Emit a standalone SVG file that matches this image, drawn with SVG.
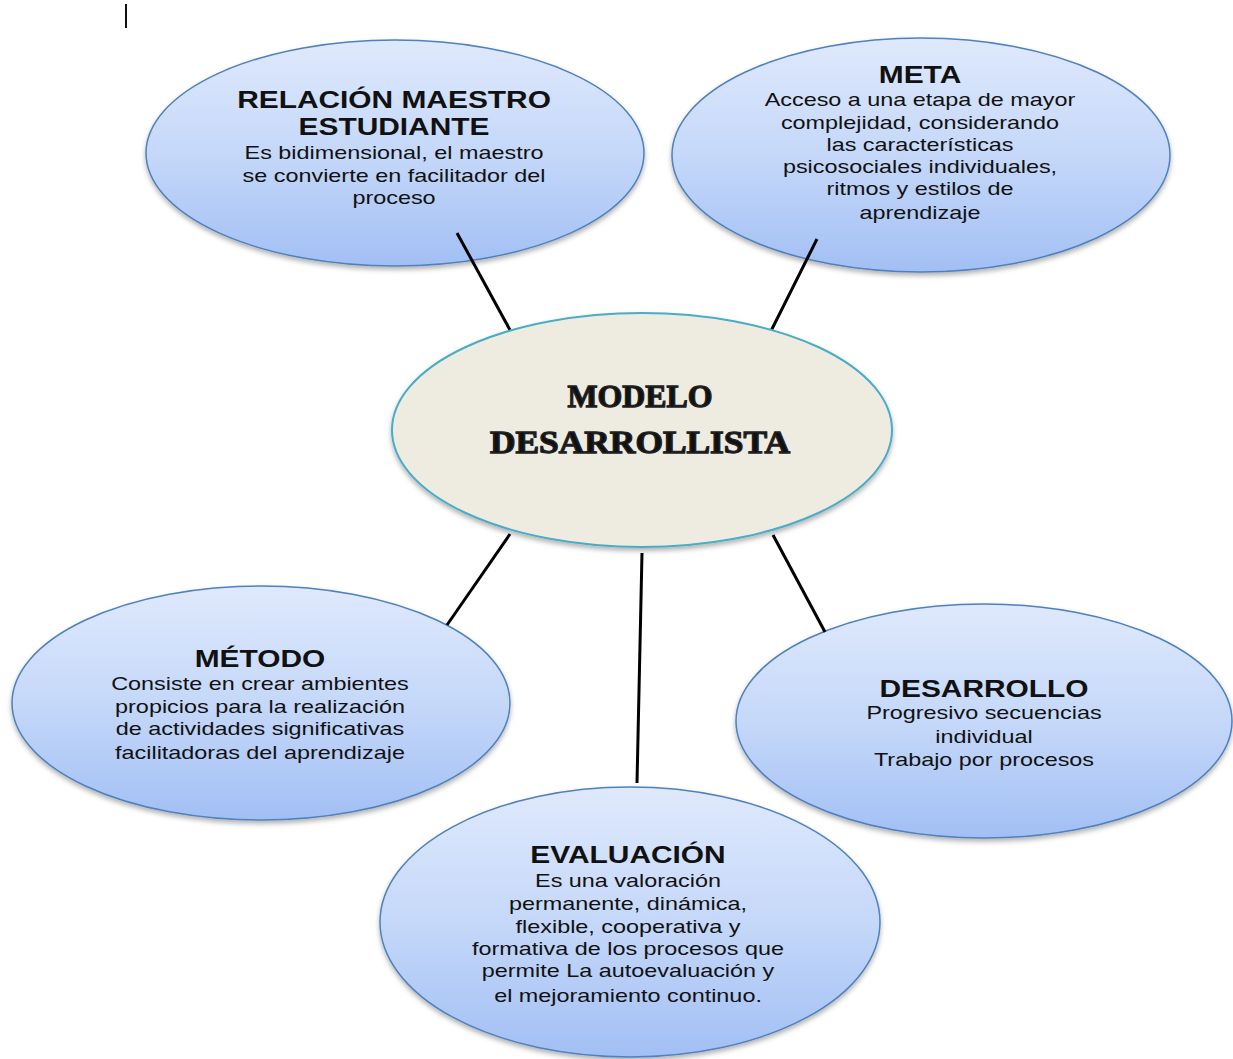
<svg xmlns="http://www.w3.org/2000/svg" width="1233" height="1059" viewBox="0 0 1233 1059">
<defs>
<linearGradient id="blueFill" x1="0" y1="0" x2="0" y2="1">
<stop offset="0" stop-color="#dfe9fc"/>
<stop offset="0.5" stop-color="#c5d8f9"/>
<stop offset="1" stop-color="#a2bff4"/>
</linearGradient>
<filter id="shadow" x="-10%" y="-10%" width="120%" height="125%">
<feDropShadow dx="0" dy="3" stdDeviation="2.5" flood-color="#000" flood-opacity="0.3"/>
</filter>
<style>
.blue{fill:url(#blueFill);stroke:#4f81bd;stroke-width:1.5;filter:url(#shadow)}
.center{fill:#eeece1;stroke:#4bacc6;stroke-width:2;filter:url(#shadow)}
.title{font-family:"Liberation Sans",Arial,sans-serif;font-weight:bold;font-size:23px;fill:#111;text-anchor:middle}
.body{font-family:"Liberation Sans",Arial,sans-serif;font-size:18px;fill:#111;text-anchor:middle}
.ctitle{font-family:"Liberation Serif","Times New Roman",serif;font-weight:bold;font-size:32px;fill:#111;stroke:#222;stroke-width:1.3;text-anchor:middle}
.conn line{stroke:#000;stroke-width:3;stroke-linecap:butt}
</style>
</defs>
<rect width="1233" height="1059" fill="#ffffff"/>
<rect x="125" y="4" width="2" height="24" fill="#111"/>

<g id="node-relacion">
<ellipse class="blue" cx="395" cy="153" rx="249" ry="113"/>
<g transform="translate(394,0) scale(1.3,1)">
<text class="title" x="0" y="108">RELACIÓN MAESTRO</text>
<text class="title" x="0" y="135">ESTUDIANTE</text>
<text class="body" x="0" y="159">Es bidimensional, el maestro</text>
<text class="body" x="0" y="182">se convierte en facilitador del</text>
<text class="body" x="0" y="204">proceso</text>
</g>
</g>

<g id="node-meta">
<ellipse class="blue" cx="921" cy="155" rx="249" ry="117"/>
<g transform="translate(920,0) scale(1.3,1)">
<text class="title" x="0" y="83">META</text>
<text class="body" x="0" y="106">Acceso a una etapa de mayor</text>
<text class="body" x="0" y="129">complejidad, considerando</text>
<text class="body" x="0" y="151">las características</text>
<text class="body" x="0" y="173">psicosociales individuales,</text>
<text class="body" x="0" y="195">ritmos y estilos de</text>
<text class="body" x="0" y="219">aprendizaje</text>
</g>
</g>

<g id="node-metodo">
<ellipse class="blue" cx="261" cy="703" rx="249" ry="117"/>
<g transform="translate(260,0) scale(1.3,1)">
<text class="title" x="0" y="667">MÉTODO</text>
<text class="body" x="0" y="690">Consiste en crear ambientes</text>
<text class="body" x="0" y="713">propicios para la realización</text>
<text class="body" x="0" y="735">de actividades significativas</text>
<text class="body" x="0" y="759">facilitadoras del aprendizaje</text>
</g>
</g>

<g id="node-desarrollo">
<ellipse class="blue" cx="984" cy="721" rx="248" ry="117"/>
<g transform="translate(984,0) scale(1.3,1)">
<text class="title" x="0" y="697">DESARROLLO</text>
<text class="body" x="0" y="719">Progresivo secuencias</text>
<text class="body" x="0" y="743">individual</text>
<text class="body" x="0" y="766">Trabajo por procesos</text>
</g>
</g>

<g id="node-evaluacion">
<ellipse class="blue" cx="630" cy="922" rx="250" ry="135"/>
<g transform="translate(628,0) scale(1.3,1)">
<text class="title" x="0" y="863">EVALUACIÓN</text>
<text class="body" x="0" y="887">Es una valoración</text>
<text class="body" x="0" y="910">permanente, dinámica,</text>
<text class="body" x="0" y="933">flexible, cooperativa y</text>
<text class="body" x="0" y="955">formativa de los procesos que</text>
<text class="body" x="0" y="977">permite La autoevaluación y</text>
<text class="body" x="0" y="1002">el mejoramiento continuo.</text>
</g>
</g>

<g id="connectors" class="conn">
<line x1="457" y1="233" x2="510" y2="330"/>
<line x1="817" y1="239" x2="771" y2="331"/>
<line x1="510" y1="534" x2="447" y2="625"/>
<line x1="642" y1="553" x2="637" y2="783"/>
<line x1="773" y1="535" x2="825" y2="632"/>
</g>

<g id="node-center">
<ellipse class="center" cx="642" cy="430" rx="250" ry="117"/>
<text class="ctitle" x="640" y="407" textLength="145" lengthAdjust="spacingAndGlyphs">MODELO</text>
<text class="ctitle" x="640" y="453" textLength="300" lengthAdjust="spacingAndGlyphs">DESARROLLISTA</text>
</g>
</svg>
